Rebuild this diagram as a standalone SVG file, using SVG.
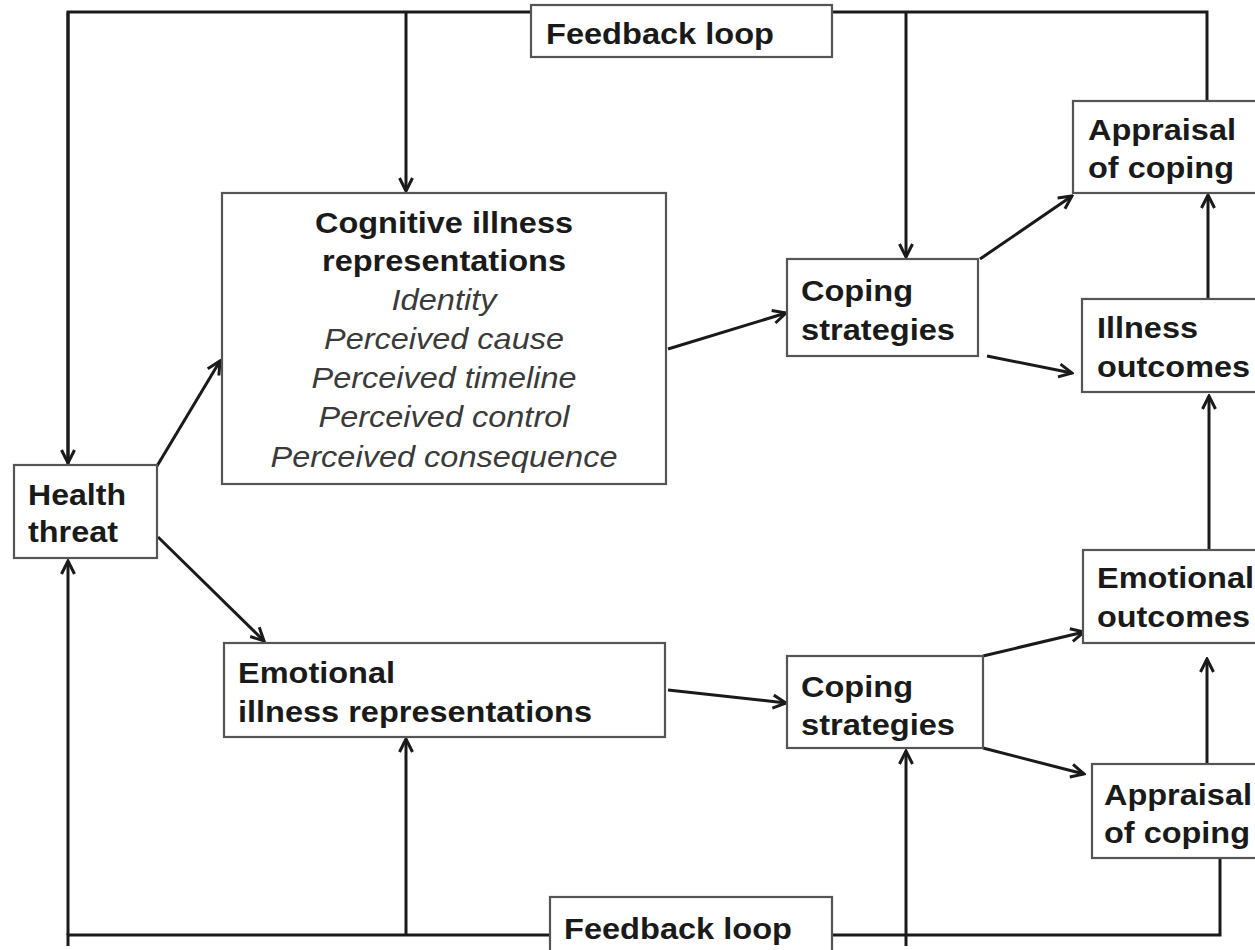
<svg xmlns="http://www.w3.org/2000/svg" width="1255" height="950" viewBox="0 0 1255 950">
<style>
.box{fill:#fff;stroke:#555;stroke-width:2.2}
.t{font-family:"Liberation Sans",Arial,sans-serif;font-weight:bold;font-size:29px;fill:#1a1a1a}
.it{font-family:"Liberation Sans",Arial,sans-serif;font-style:italic;font-size:29px;fill:#3a3a3a}
.c{fill:none;stroke:#1a1a1a;stroke-width:3}
</style>
<defs>
<marker id="ah" markerUnits="userSpaceOnUse" viewBox="0 0 18 18" refX="16" refY="9" markerWidth="18" markerHeight="18" orient="auto">
<path d="M3,2.5 L16,9 L3,15.5" fill="none" stroke="#1a1a1a" stroke-width="3"/>
</marker>
</defs>
<rect width="1255" height="950" fill="#fff"/>
<g id="connectors">
<polyline class="c" points="68,465 68,12 1207,12 1207,101"/>
<line class="c" x1="406" y1="12" x2="406" y2="191" marker-end="url(#ah)"/>
<line class="c" x1="906" y1="12" x2="906" y2="257" marker-end="url(#ah)"/>
<line class="c" x1="68" y1="12" x2="68" y2="463" marker-end="url(#ah)"/>
<polyline class="c" points="68,946 68,935 1220,935 1220,858"/>
<line class="c" x1="68" y1="935" x2="68" y2="561" marker-end="url(#ah)"/>
<line class="c" x1="406" y1="935" x2="406" y2="739" marker-end="url(#ah)"/>
<line class="c" x1="906" y1="946" x2="906" y2="751" marker-end="url(#ah)"/>
<line class="c" x1="157" y1="466" x2="220" y2="361" marker-end="url(#ah)"/>
<line class="c" x1="158" y1="537" x2="264" y2="641" marker-end="url(#ah)"/>
<line class="c" x1="668" y1="349" x2="786" y2="313" marker-end="url(#ah)"/>
<line class="c" x1="668" y1="690" x2="786" y2="703" marker-end="url(#ah)"/>
<line class="c" x1="980" y1="259" x2="1072" y2="196" marker-end="url(#ah)"/>
<line class="c" x1="987" y1="356" x2="1072" y2="373" marker-end="url(#ah)"/>
<line class="c" x1="1208" y1="299" x2="1208" y2="195" marker-end="url(#ah)"/>
<line class="c" x1="1209" y1="550" x2="1209" y2="396" marker-end="url(#ah)"/>
<line class="c" x1="983" y1="656" x2="1084" y2="632" marker-end="url(#ah)"/>
<line class="c" x1="983" y1="748" x2="1084" y2="774" marker-end="url(#ah)"/>
<line class="c" x1="1207" y1="764" x2="1207" y2="659" marker-end="url(#ah)"/>
</g>
<g id="feedback-top">
<rect class="box" x="531" y="5" width="301" height="52"/>
<text class="t" x="546" y="44" textLength="228" lengthAdjust="spacingAndGlyphs">Feedback loop</text>
</g>
<g id="feedback-bottom">
<rect class="box" x="550" y="897" width="282" height="70"/>
<text class="t" x="564" y="939" textLength="228" lengthAdjust="spacingAndGlyphs">Feedback loop</text>
</g>
<g id="health-threat">
<rect class="box" x="14" y="465" width="143" height="93"/>
<text class="t" x="28" y="505" textLength="98" lengthAdjust="spacingAndGlyphs">Health</text>
<text class="t" x="28" y="542" textLength="90" lengthAdjust="spacingAndGlyphs">threat</text>
</g>
<g id="cognitive">
<rect class="box" x="222" y="193" width="444" height="291"/>
<text class="t" x="444" y="233" text-anchor="middle" textLength="258" lengthAdjust="spacingAndGlyphs">Cognitive illness</text>
<text class="t" x="444" y="271" text-anchor="middle" textLength="244" lengthAdjust="spacingAndGlyphs">representations</text>
<text class="it" x="444" y="310" text-anchor="middle" textLength="105" lengthAdjust="spacingAndGlyphs">Identity</text>
<text class="it" x="444" y="349" text-anchor="middle" textLength="240" lengthAdjust="spacingAndGlyphs">Perceived cause</text>
<text class="it" x="444" y="388" text-anchor="middle" textLength="265" lengthAdjust="spacingAndGlyphs">Perceived timeline</text>
<text class="it" x="444" y="427" text-anchor="middle" textLength="251" lengthAdjust="spacingAndGlyphs">Perceived control</text>
<text class="it" x="444" y="467" text-anchor="middle" textLength="347" lengthAdjust="spacingAndGlyphs">Perceived consequence</text>
</g>
<g id="emotional-rep">
<rect class="box" x="224" y="643" width="441" height="94"/>
<text class="t" x="238" y="683" textLength="157" lengthAdjust="spacingAndGlyphs">Emotional</text>
<text class="t" x="238" y="722" textLength="354" lengthAdjust="spacingAndGlyphs">illness representations</text>
</g>
<g id="coping-top">
<rect class="box" x="787" y="259" width="191" height="97"/>
<text class="t" x="801" y="301" textLength="112" lengthAdjust="spacingAndGlyphs">Coping</text>
<text class="t" x="801" y="340" textLength="154" lengthAdjust="spacingAndGlyphs">strategies</text>
</g>
<g id="coping-bottom">
<rect class="box" x="787" y="656" width="196" height="92"/>
<text class="t" x="801" y="697" textLength="112" lengthAdjust="spacingAndGlyphs">Coping</text>
<text class="t" x="801" y="735" textLength="154" lengthAdjust="spacingAndGlyphs">strategies</text>
</g>
<g id="appraisal-top">
<rect class="box" x="1073" y="101" width="200" height="92"/>
<text class="t" x="1088" y="140" textLength="148" lengthAdjust="spacingAndGlyphs">Appraisal</text>
<text class="t" x="1088" y="178" textLength="146" lengthAdjust="spacingAndGlyphs">of coping</text>
</g>
<g id="illness-outcomes">
<rect class="box" x="1082" y="299" width="200" height="93"/>
<text class="t" x="1097" y="338" textLength="101" lengthAdjust="spacingAndGlyphs">Illness</text>
<text class="t" x="1097" y="377" textLength="153" lengthAdjust="spacingAndGlyphs">outcomes</text>
</g>
<g id="emotional-outcomes">
<rect class="box" x="1083" y="550" width="200" height="93"/>
<text class="t" x="1097" y="588" textLength="157" lengthAdjust="spacingAndGlyphs">Emotional</text>
<text class="t" x="1097" y="627" textLength="153" lengthAdjust="spacingAndGlyphs">outcomes</text>
</g>
<g id="appraisal-bottom">
<rect class="box" x="1092" y="764" width="200" height="94"/>
<text class="t" x="1104" y="805" textLength="148" lengthAdjust="spacingAndGlyphs">Appraisal</text>
<text class="t" x="1104" y="843" textLength="146" lengthAdjust="spacingAndGlyphs">of coping</text>
</g>
</svg>
